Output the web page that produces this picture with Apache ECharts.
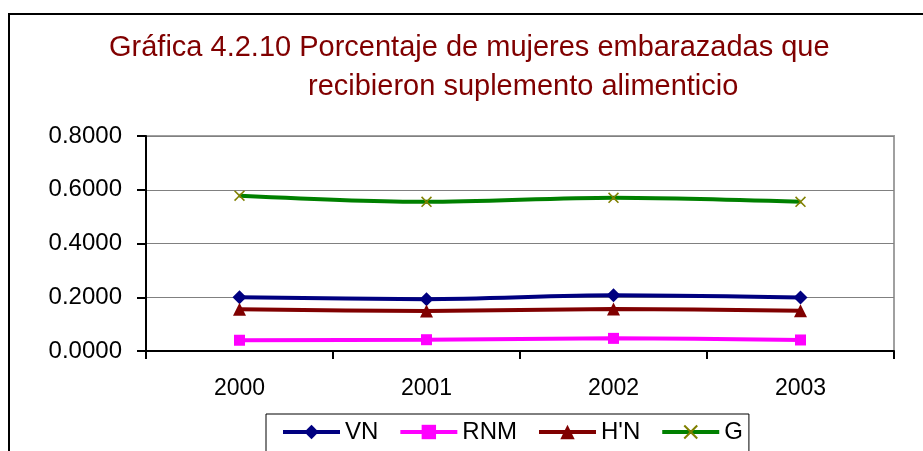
<!DOCTYPE html>
<html>
<head>
<meta charset="utf-8">
<script src="https://cdn.jsdelivr.net/npm/echarts@6/dist/echarts.min.js"></script>
<style>html,body{margin:0;padding:0;background:#fff;}#c{width:923px;height:451px;}</style>
</head>
<body>
<div id="c"></div>
<script>
const categories = ['2000', '2001', '2002', '2003'];
const seriesNames = ['VN', 'RNM', "H'N", 'G'];
const vnValues = [0.200, 0.193, 0.207, 0.199];
const rnmValues = [0.040, 0.042, 0.047, 0.041];
const hnValues = [0.155, 0.149, 0.156, 0.150];
const gValues = [0.578, 0.555, 0.570, 0.555];
const yTicks = [0, 0.2, 0.4, 0.6, 0.8];
const titleLine1 = 'Gráfica 4.2.10 Porcentaje de mujeres embarazadas que';
const titleLine2 = 'recibieron suplemento alimenticio';

const FONT = 'Liberation Sans, Arial, sans-serif';
const xPath = 'path://M0,1 L1,0 L5,4 L9,0 L10,1 L6,5 L10,9 L9,10 L5,6 L1,10 L0,9 L4,5 Z';

const chart = echarts.init(document.getElementById('c'), null, {renderer: 'canvas'});
function mk(name, data, color, symbol, size, symColor) {
  return {
    name: name, type: 'line', data: data, smooth: 0.3,
    symbol: symbol, symbolSize: size,
    lineStyle: {color: color, width: 4},
    itemStyle: {color: symColor || color},
    emphasis: {disabled: true}, z: 3
  };
}
chart.setOption({
  animation: false,
  backgroundColor: '#ffffff',
  graphic: [{
    type: 'rect', shape: {x: 9, y: 14, width: 1200, height: 1000},
    style: {fill: 'none', stroke: '#000', lineWidth: 2}, z: -1
  }],
  title: [
    {text: titleLine1, left: 109, top: 33, padding: 0,
     textStyle: {fontFamily: FONT, fontSize: 29, fontWeight: 'normal', color: '#800000', lineHeight: 29}},
    {text: titleLine2, left: 308, top: 72, padding: 0,
     textStyle: {fontFamily: FONT, fontSize: 29, fontWeight: 'normal', color: '#800000', lineHeight: 29}}
  ],
  legend: {
    left: 266, top: 414,
    padding: [6, 6, 30, 15],
    itemWidth: 57, itemHeight: 18, itemGap: 20,
    borderColor: '#000', borderWidth: 1,
    lineStyle: {width: 4},
    textStyle: {fontFamily: FONT, fontSize: 24, color: '#000', padding: [0, 0, 0, 0]},
    data: seriesNames
  },
  grid: {left: 146, right: 29, top: 136, bottom: 100, show: true, borderColor: '#a0a0a0', borderWidth: 2, backgroundColor: '#fff'},
  xAxis: {
    type: 'category', data: categories, boundaryGap: true,
    axisLine: {lineStyle: {color: '#000', width: 2}},
    axisTick: {show: true, length: 8, interval: 0, lineStyle: {color: '#000', width: 2}},
    axisLabel: {fontFamily: FONT, fontSize: 23, color: '#000', margin: 26},
    splitLine: {show: false}
  },
  yAxis: {
    type: 'value', min: 0, max: 0.8, interval: 0.2,
    axisLine: {show: true, lineStyle: {color: '#000', width: 2}},
    axisTick: {show: true, length: 9, lineStyle: {color: '#000', width: 2}},
    axisLabel: {fontFamily: FONT, fontSize: 24, color: '#000', margin: 24,
      formatter: v => yTicks.includes(Math.round(v * 10) / 10) ? v.toFixed(4) : ''},
    splitLine: {lineStyle: {color: '#808080', width: 1}}
  },
  series: [
    mk(seriesNames[0], vnValues, '#000080', 'diamond', 14),
    mk(seriesNames[1], rnmValues, '#ff00ff', 'rect', 11),
    mk(seriesNames[2], hnValues, '#800000', 'triangle', 13),
    mk(seriesNames[3], gValues, '#008000', xPath, 11, '#808000')
  ]
});
</script>
</body>
</html>
